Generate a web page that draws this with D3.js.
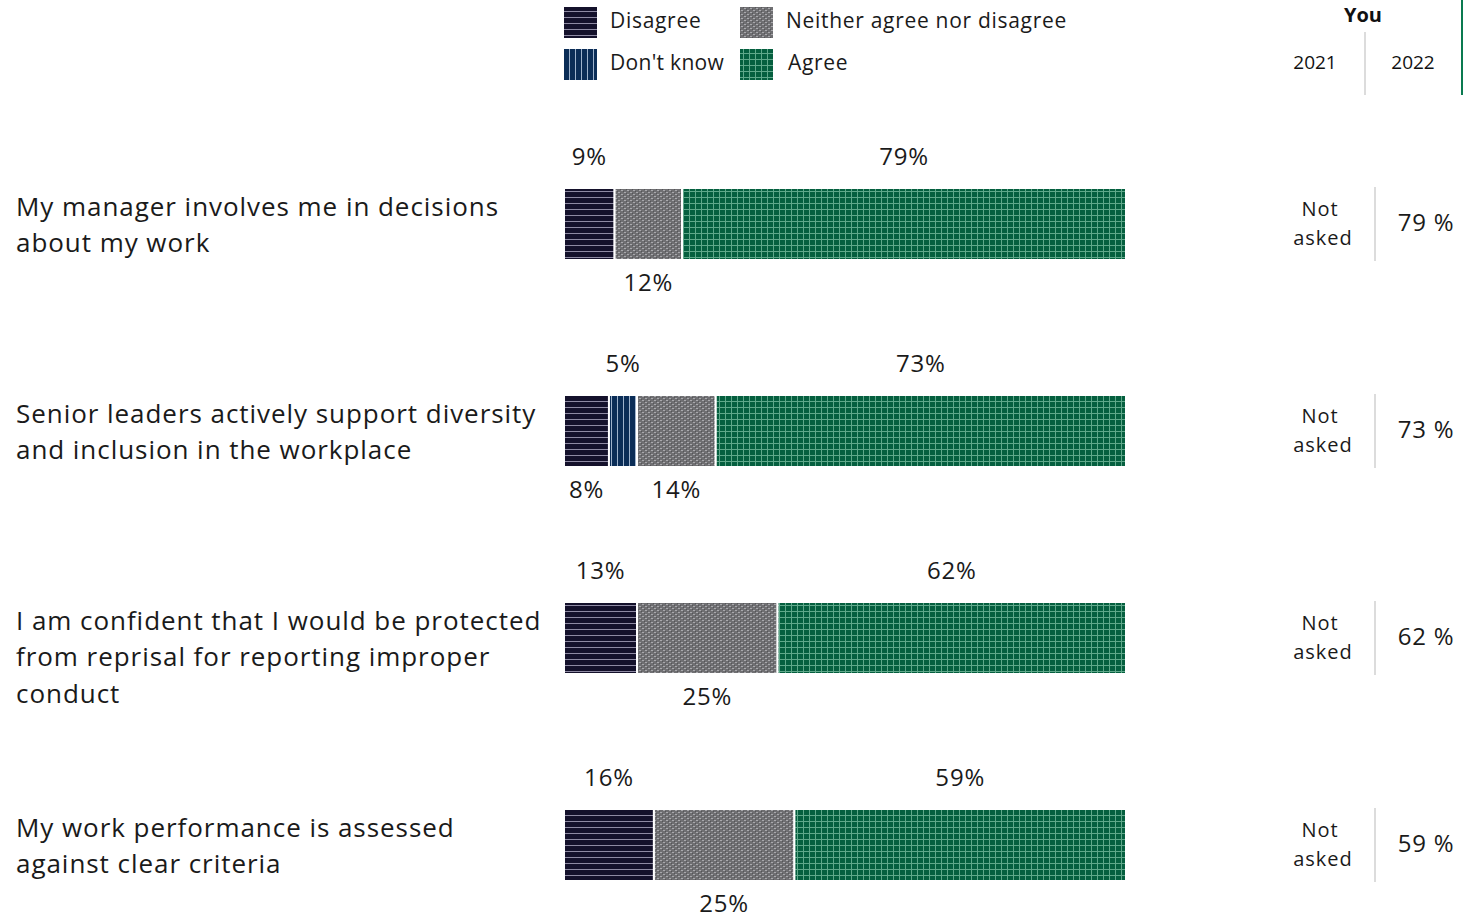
<!DOCTYPE html>
<html><head><meta charset="utf-8">
<script src="https://cdn.jsdelivr.net/npm/d3@7"></script>
<style>body{margin:0;background:#fff;}svg{display:block;font-family:"Open Sans","Noto Sans",sans-serif;}</style>
</head><body>
<script>
const categories = [
  ["My manager involves me in decisions", "about my work"],
  ["Senior leaders actively support diversity", "and inclusion in the workplace"],
  ["I am confident that I would be protected", "from reprisal for reporting improper", "conduct"],
  ["My work performance is assessed", "against clear criteria"]
];
const seriesNames = ["Disagree", "Don't know", "Neither agree nor disagree", "Agree"];
const disagree = [9, 8, 13, 16];
const dontKnow = [0, 5, 0, 0];
const neither = [12, 14, 25, 25];
const agree = [79, 73, 62, 59];
const col2021 = ["Not asked", "Not asked", "Not asked", "Not asked"];
const col2022 = [79, 73, 62, 59];
const yearLabels = ["2021", "2022"];
const groupLabel = "You";

const W = 1466, H = 918;
const svg = d3.select("body").append("svg").attr("width", W).attr("height", H);
const defs = svg.append("defs");

function pat(id, w, h, bg, draw) {
  const p = defs.append("pattern").attr("id", id).attr("patternUnits", "userSpaceOnUse")
    .attr("width", w).attr("height", h);
  p.append("rect").attr("width", w).attr("height", h).attr("fill", bg);
  draw(p);
}
pat("p-dis", 6, 6, "#14112b", p => p.append("rect").attr("y", 5).attr("width", 6).attr("height", 1).attr("fill", "#8e8aa3"));
pat("p-dk", 6, 6, "#0b2d57", p => p.append("rect").attr("x", 5).attr("width", 1).attr("height", 6).attr("fill", "#9fb3cc"));
pat("p-nei", 6, 4, "#6f6f72", p => {
  p.append("rect").attr("x", 0).attr("y", 0).attr("width", 2).attr("height", 1).attr("fill", "#a9a9ad");
  p.append("rect").attr("x", 3).attr("y", 2).attr("width", 2).attr("height", 1).attr("fill", "#a9a9ad");
  p.append("rect").attr("x", 2).attr("y", 1).attr("width", 1).attr("height", 1).attr("fill", "#555558");
  p.append("rect").attr("x", 5).attr("y", 3).attr("width", 1).attr("height", 1).attr("fill", "#555558");
});
pat("p-agr", 6, 6, "#055f3f", p => {
  p.append("rect").attr("x", 5).attr("width", 1).attr("height", 6).attr("fill", "#5fa88a");
  p.append("rect").attr("y", 5).attr("width", 6).attr("height", 1).attr("fill", "#5fa88a");
});
const fills = ["url(#p-dis)", "url(#p-dk)", "url(#p-nei)", "url(#p-agr)"];

const x = d3.scaleLinear().domain([0, 100]).range([564, 1126]);
const y = d3.scalePoint().domain(d3.range(categories.length)).range([224, 845]);
const barH = 72;

const legendPos = [[564, 7], [564, 49], [740, 7], [740, 49]];
const legendTextX = [610, 610, 786, 788];
seriesNames.forEach((n, i) => {
  const [lx, ly] = legendPos[i];
  svg.append("rect").attr("x", lx).attr("y", ly).attr("width", 33).attr("height", 31).attr("fill", fills[i]);
  svg.append("text").attr("x", legendTextX[i]).attr("y", ly + 15).attr("dominant-baseline", "middle")
    .attr("font-size", 21).attr("letter-spacing", i === 1 ? 0.3 : 0.7).attr("fill", "#1a1a1a").text(n);
});

svg.append("text").attr("x", 1363).attr("y", 17).attr("text-anchor", "middle").attr("dominant-baseline", "middle")
  .attr("font-size", 20).attr("font-weight", "bold").attr("fill", "#111").text(groupLabel);
[1315, 1413].forEach((cx, i) => svg.append("text").attr("x", cx).attr("y", 64).attr("text-anchor", "middle")
  .attr("dominant-baseline", "middle").attr("font-size", 19).attr("fill", "#111").text(yearLabels[i]));
svg.append("line").attr("x1", 1365).attr("x2", 1365).attr("y1", 32).attr("y2", 95).attr("stroke", "#d0d0d0").attr("stroke-width", 1.5);
svg.append("line").attr("x1", 1462).attr("x2", 1462).attr("y1", 0).attr("y2", 95).attr("stroke", "#0a7a50").attr("stroke-width", 2);

const series = [disagree, dontKnow, neither, agree];
categories.forEach((lines, r) => {
  const cy = y(r);
  const top = cy - barH / 2;
  lines.forEach((ln, k) => svg.append("text").attr("x", 16).attr("y", cy - 15 + k * 36.5)
    .attr("dominant-baseline", "middle").attr("font-size", 26).attr("letter-spacing", 0.95)
    .attr("fill", "#1a1a1a").text(ln));
  let acc = 0;
  const segs = [];
  series.forEach((s, i) => {
    const v = s[r];
    if (v > 0) segs.push({ i, v, x0: acc, x1: acc + v });
    acc += v;
  });
  segs.forEach(sg => {
    svg.append("rect").attr("x", x(sg.x0)).attr("y", top).attr("width", x(sg.x1) - x(sg.x0)).attr("height", barH)
      .attr("fill", fills[sg.i]).attr("stroke", "#fff").attr("stroke-width", 2);
  });
  segs.slice().reverse().forEach((sg, k) => {
    const above = k % 2 === 0;
    svg.append("text").attr("x", (x(sg.x0) + x(sg.x1)) / 2)
      .attr("y", above ? top - 29 : top + barH + 25)
      .attr("text-anchor", "middle").attr("dominant-baseline", "middle")
      .attr("font-size", 24).attr("letter-spacing", 0.8).attr("fill", "#1a1a1a").text(sg.v + "%");
  });
  const na = col2021[r].split(" ");
  svg.append("text").attr("x", 1320).attr("y", cy - 13).attr("text-anchor", "middle").attr("dominant-baseline", "middle")
    .attr("font-size", 20).attr("letter-spacing", 1).attr("fill", "#1a1a1a").text(na[0]);
  svg.append("text").attr("x", 1323).attr("y", cy + 16).attr("text-anchor", "middle").attr("dominant-baseline", "middle")
    .attr("font-size", 20).attr("letter-spacing", 1).attr("fill", "#1a1a1a").text(na[1]);
  svg.append("line").attr("x1", 1375).attr("x2", 1375).attr("y1", cy - 37).attr("y2", cy + 37)
    .attr("stroke", "#d0d0d0").attr("stroke-width", 1.5);
  svg.append("text").attr("x", 1426).attr("y", cy + 1).attr("text-anchor", "middle").attr("dominant-baseline", "middle")
    .attr("font-size", 24).attr("letter-spacing", 0.8).attr("fill", "#1a1a1a").text(col2022[r] + " %");
});
</script>
</body></html>
